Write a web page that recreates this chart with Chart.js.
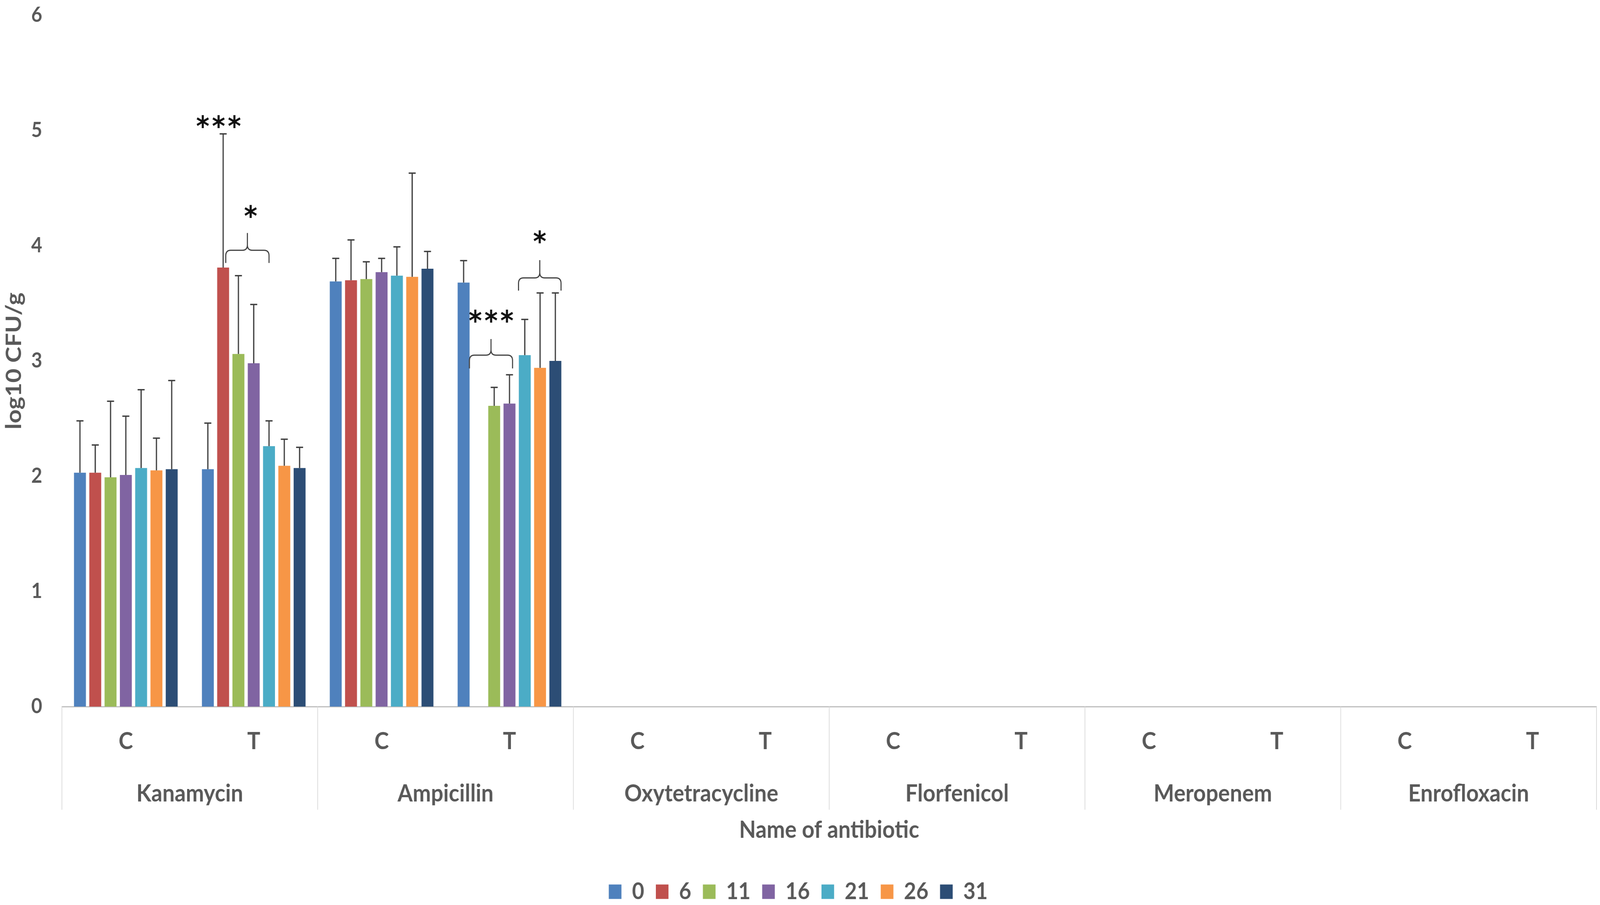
<!DOCTYPE html>
<html>
<head>
<meta charset="utf-8">
<script src="https://cdn.jsdelivr.net/npm/chart.js@4.4.1/dist/chart.umd.min.js"></script>
<style>
html,body{margin:0;padding:0;background:#ffffff;overflow:hidden;}
#wrap{width:4550px;height:2317px;position:absolute;left:0;top:0;transform-origin:0 0;}
</style>
</head>
<body>
<div id="wrap"><canvas id="c"></canvas></div>
<script>
// ---------- data ----------
const antibiotics = ['Kanamycin', 'Ampicillin', 'Oxytetracycline', 'Florfenicol', 'Meropenem', 'Enrofloxacin'];
const groups = ['C', 'T'];
const days = ['0', '6', '11', '16', '21', '26', '31'];

// order: Kanamycin C, Kanamycin T, Ampicillin C, Ampicillin T, Oxytetracycline C, T, Florfenicol C, T, Meropenem C, T, Enrofloxacin C, T
const mean_0  = [2.03, 2.06, 3.69, 3.68, null, null, null, null, null, null, null, null];
const mean_6  = [2.03, 3.81, 3.70, null, null, null, null, null, null, null, null, null];
const mean_11 = [1.99, 3.06, 3.71, 2.61, null, null, null, null, null, null, null, null];
const mean_16 = [2.01, 2.98, 3.77, 2.63, null, null, null, null, null, null, null, null];
const mean_21 = [2.07, 2.26, 3.74, 3.05, null, null, null, null, null, null, null, null];
const mean_26 = [2.05, 2.09, 3.73, 2.94, null, null, null, null, null, null, null, null];
const mean_31 = [2.06, 2.07, 3.80, 3.00, null, null, null, null, null, null, null, null];

const sd_0  = [0.45, 0.40, 0.20, 0.19, null, null, null, null, null, null, null, null];
const sd_6  = [0.24, 1.16, 0.35, null, null, null, null, null, null, null, null, null];
const sd_11 = [0.66, 0.68, 0.15, 0.16, null, null, null, null, null, null, null, null];
const sd_16 = [0.51, 0.51, 0.12, 0.25, null, null, null, null, null, null, null, null];
const sd_21 = [0.68, 0.22, 0.25, 0.31, null, null, null, null, null, null, null, null];
const sd_26 = [0.28, 0.23, 0.90, 0.65, null, null, null, null, null, null, null, null];
const sd_31 = [0.77, 0.18, 0.15, 0.59, null, null, null, null, null, null, null, null];

const yTicks = [0, 1, 2, 3, 4, 5, 6];

// significance marks (category index, bar-slot span, values on the y scale)
const sigBraces = [
  { cat: 1, from: 1.17, to: 4.0,  base: 3.85,  bar: 3.96, peak: 4.11 },
  { cat: 3, from: 0.38, to: 3.2,  base: 2.935, bar: 3.05, peak: 3.19 },
  { cat: 3, from: 3.59, to: 6.37, base: 3.61,  bar: 3.72, peak: 3.875 }
];
const sigStars = [
  { cat: 1, at: 0.7,  y: 5.09, text: '***' },
  { cat: 1, at: 2.8,  y: 4.31, text: '*' },
  { cat: 3, at: 1.8,  y: 3.40, text: '***' },
  { cat: 3, at: 4.98, y: 4.09, text: '*' }
];

// ---------- fit the 4550x2317 design into the real window ----------
(function fitPage() {
  const sx = window.innerWidth / 4550, sy = window.innerHeight / 2317;
  document.getElementById('wrap').style.transform = 'scale(' + sx + ',' + sy + ')';
})();

// ---------- styles ----------
const seriesColors = ['#4F81BD', '#C0504D', '#9BBB59', '#8064A2', '#4BACC6', '#F79646', '#2C4D75'];
const TEXT = '#595959';
const means = [mean_0, mean_6, mean_11, mean_16, mean_21, mean_26, mean_31];
const sds = [sd_0, sd_6, sd_11, sd_16, sd_21, sd_26, sd_31];
const categories = antibiotics.flatMap(() => groups);

Chart.defaults.font.family = 'Lato';

const separatorPlugin = {
  id: 'separators',
  afterDraw(chart) {
    const x = chart.scales.x, x2 = chart.scales.x2, ctx = chart.ctx;
    const n = antibiotics.length, per = groups.length;
    ctx.save();
    ctx.strokeStyle = '#D9D9D9';
    ctx.lineWidth = 2;
    for (let k = 0; k <= n; k++) {
      let px;
      if (k === 0) px = x.left;
      else if (k === n) px = x.right;
      else px = (x.getPixelForValue(k * per - 1) + x.getPixelForValue(k * per)) / 2;
      ctx.beginPath();
      ctx.moveTo(px, x.top);
      ctx.lineTo(px, x2.top + 86);
      ctx.stroke();
    }
    ctx.restore();
  }
};

const errorBarPlugin = {
  id: 'errorBars',
  afterDatasetsDraw(chart) {
    const ctx = chart.ctx, y = chart.scales.y;
    ctx.save();
    ctx.strokeStyle = '#404040';
    ctx.lineWidth = 3.5;
    chart.data.datasets.forEach((ds, i) => {
      const meta = chart.getDatasetMeta(i);
      ds.data.forEach((v, j) => {
        const e = ds.errors[j];
        if (v == null || e == null) return;
        const el = meta.data[j];
        const yt = y.getPixelForValue(v + e);
        ctx.beginPath();
        ctx.moveTo(el.x, el.y);
        ctx.lineTo(el.x, yt);
        ctx.moveTo(el.x - 10, yt);
        ctx.lineTo(el.x + 10, yt);
        ctx.stroke();
      });
    });
    ctx.restore();
  }
};

function drawBrace(ctx, x1, x2, yBase, yBar, yPeak) {
  const xm = (x1 + x2) / 2;
  const r = 14;
  ctx.beginPath();
  ctx.moveTo(x1, yBase);
  ctx.lineTo(x1, yBar + r);
  ctx.quadraticCurveTo(x1, yBar, x1 + r, yBar);
  ctx.lineTo(xm - r, yBar);
  ctx.quadraticCurveTo(xm, yBar, xm, yBar - r);
  ctx.lineTo(xm, yPeak);
  ctx.moveTo(xm, yBar - r);
  ctx.quadraticCurveTo(xm, yBar, xm + r, yBar);
  ctx.lineTo(x2 - r, yBar);
  ctx.quadraticCurveTo(x2, yBar, x2, yBar + r);
  ctx.lineTo(x2, yBase);
  ctx.stroke();
}

function drawStars(ctx, cx, cy, text) {
  const size = 72, pitch = 45;
  ctx.font = 'bold ' + size + 'px "DejaVu Sans"';
  ctx.fillStyle = '#111111';
  ctx.textAlign = 'center';
  ctx.textBaseline = 'alphabetic';
  const n = text.length;
  for (let i = 0; i < n; i++) {
    const x = cx + (i - (n - 1) / 2) * pitch;
    ctx.fillText(text[i], x, cy + size * 0.56);
  }
}

const sigPlugin = {
  id: 'significance',
  afterDatasetsDraw(chart) {
    const ctx = chart.ctx, y = chart.scales.y;
    const m0 = chart.getDatasetMeta(0), m1 = chart.getDatasetMeta(1);
    const pitch = m1.data[0].x - m0.data[0].x;
    const slotX = (cat, s) => m0.data[cat].x + s * pitch;
    ctx.save();
    ctx.strokeStyle = '#404040';
    ctx.lineWidth = 3;
    sigBraces.forEach(b => drawBrace(ctx, slotX(b.cat, b.from), slotX(b.cat, b.to),
      y.getPixelForValue(b.base), y.getPixelForValue(b.bar), y.getPixelForValue(b.peak)));
    sigStars.forEach(s => drawStars(ctx, slotX(s.cat, s.at), y.getPixelForValue(s.y), s.text));
    ctx.restore();
  }
};

new Chart(document.getElementById('c'), {
  type: 'bar',
  data: {
    labels: categories,
    datasets: days.map((d, i) => ({
      label: d,
      data: means[i],
      errors: sds[i],
      backgroundColor: seriesColors[i],
      borderWidth: 0,
      categoryPercentage: 0.837,
      barPercentage: 0.78
    }))
  },
  options: {
    responsive: true,
    maintainAspectRatio: false,
    animation: false,
    devicePixelRatio: 1,
    layout: { padding: { top: 39, right: 10, bottom: -6, left: 0 } },
    plugins: {
      legend: {
        position: 'bottom',
        labels: {
          boxWidth: 36, boxHeight: 37, padding: 33,
          color: TEXT, font: { size: 60, weight: 'bold' }
        }
      },
      tooltip: { enabled: false }
    },
    scales: {
      x: {
        type: 'category', position: 'bottom', weight: 0, offset: true,
        grid: { display: false, drawTicks: false },
        border: { display: true, color: '#BFBFBF', width: 3 },
        ticks: { padding: 52, color: TEXT, font: { size: 62, weight: 'bold' }, maxRotation: 0, autoSkip: false },
        afterFit(s) { s.height = 178; }
      },
      x2: {
        type: 'category', labels: antibiotics, position: 'bottom', weight: 1, offset: true,
        grid: { display: false, drawTicks: false },
        border: { display: false },
        ticks: { padding: 8, color: TEXT, font: { size: 62, weight: 'bold' }, maxRotation: 0, autoSkip: false },
        title: { display: true, text: 'Name of antibiotic', color: TEXT, font: { size: 62, weight: 'bold' }, padding: { top: 0, bottom: 58 } },
        afterFit(s) { s.height = 233; }
      },
      y: {
        min: yTicks[0], max: yTicks[yTicks.length - 1],
        afterBuildTicks(s) { s.ticks = yTicks.map(v => ({ value: v })); },
        ticks: { padding: 56, color: TEXT, font: { size: 54, weight: 'bold' } },
        grid: { display: false, drawTicks: false },
        border: { display: false },
        title: { display: true, text: 'log10 CFU/g', color: TEXT, font: { size: 62, weight: 'bold' }, padding: { top: 3, bottom: 0 } },
        afterFit(s) { s.width = 176; s.paddingTop = 0; s.paddingBottom = 0; }
      }
    }
  },
  plugins: [separatorPlugin, errorBarPlugin, sigPlugin]
});
</script>
</body>
</html>
